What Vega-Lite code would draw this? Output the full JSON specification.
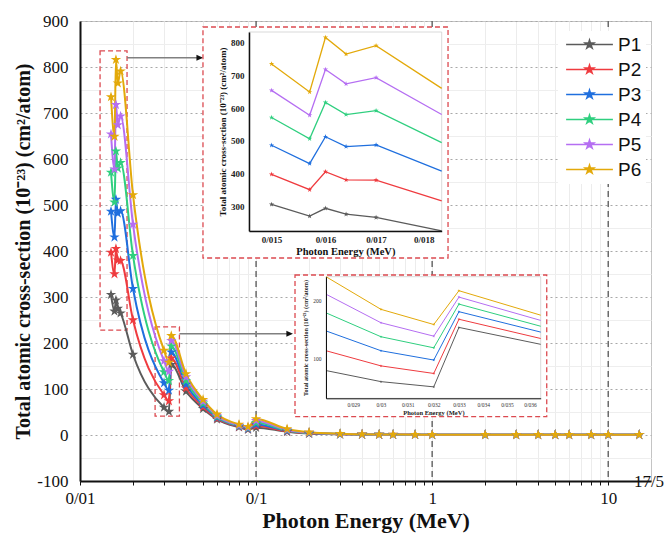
{
  "$schema": "https://vega.github.io/schema/vega-lite/v6.json",
  "width": 571,
  "height": 460,
  "autosize": "none",
  "padding": {"left": 80, "top": 21, "right": 15, "bottom": 62},
  "background": "white",
  "config": {
    "view": {"stroke": "#c4c4c4", "strokeWidth": 1},
    "font": "Liberation Serif"
  },
  "datasets": {
    "main": [
      {"E":0.015,"s":"P1","v":305},{"E":0.0157,"s":"P1","v":269},{"E":0.016,"s":"P1","v":293},{"E":0.0164,"s":"P1","v":275},{"E":0.017,"s":"P1","v":265},{"E":0.02,"s":"P1","v":175},{"E":0.03,"s":"P1","v":60},{"E":0.032,"s":"P1","v":51},{"E":0.033,"s":"P1","v":153},{"E":0.04,"s":"P1","v":95},{"E":0.05,"s":"P1","v":57},{"E":0.06,"s":"P1","v":34},{"E":0.08,"s":"P1","v":17},{"E":0.09,"s":"P1","v":12},{"E":0.1,"s":"P1","v":16},{"E":0.15,"s":"P1","v":7},{"E":0.2,"s":"P1","v":3.1},{"E":0.3,"s":"P1","v":1.6},{"E":0.4,"s":"P1","v":1.1},{"E":0.5,"s":"P1","v":0.9},{"E":0.6,"s":"P1","v":0.8},{"E":0.8,"s":"P1","v":0.67},{"E":1,"s":"P1","v":0.6},{"E":2,"s":"P1","v":0.44},{"E":3,"s":"P1","v":0.4},{"E":4,"s":"P1","v":0.4},{"E":5,"s":"P1","v":0.4},{"E":6,"s":"P1","v":0.41},{"E":8,"s":"P1","v":0.43},{"E":10,"s":"P1","v":0.45},{"E":15,"s":"P1","v":0.48},
      {"E":0.015,"s":"P2","v":397},{"E":0.0157,"s":"P2","v":350},{"E":0.016,"s":"P2","v":405},{"E":0.0164,"s":"P2","v":380},{"E":0.017,"s":"P2","v":379},{"E":0.02,"s":"P2","v":250},{"E":0.03,"s":"P2","v":87},{"E":0.032,"s":"P2","v":74},{"E":0.033,"s":"P2","v":167},{"E":0.04,"s":"P2","v":102},{"E":0.05,"s":"P2","v":61},{"E":0.06,"s":"P2","v":36},{"E":0.08,"s":"P2","v":18},{"E":0.09,"s":"P2","v":13},{"E":0.1,"s":"P2","v":20},{"E":0.15,"s":"P2","v":8},{"E":0.2,"s":"P2","v":3.6},{"E":0.3,"s":"P2","v":1.8},{"E":0.4,"s":"P2","v":1.2},{"E":0.5,"s":"P2","v":0.95},{"E":0.6,"s":"P2","v":0.83},{"E":0.8,"s":"P2","v":0.69},{"E":1,"s":"P2","v":0.62},{"E":2,"s":"P2","v":0.45},{"E":3,"s":"P2","v":0.41},{"E":4,"s":"P2","v":0.41},{"E":5,"s":"P2","v":0.41},{"E":6,"s":"P2","v":0.42},{"E":8,"s":"P2","v":0.44},{"E":10,"s":"P2","v":0.46},{"E":15,"s":"P2","v":0.49},
      {"E":0.015,"s":"P3","v":486},{"E":0.0157,"s":"P3","v":430},{"E":0.016,"s":"P3","v":512},{"E":0.0164,"s":"P3","v":482},{"E":0.017,"s":"P3","v":487},{"E":0.02,"s":"P3","v":318},{"E":0.03,"s":"P3","v":113},{"E":0.032,"s":"P3","v":97},{"E":0.033,"s":"P3","v":180},{"E":0.04,"s":"P3","v":110},{"E":0.05,"s":"P3","v":65},{"E":0.06,"s":"P3","v":38},{"E":0.08,"s":"P3","v":19},{"E":0.09,"s":"P3","v":14},{"E":0.1,"s":"P3","v":23},{"E":0.15,"s":"P3","v":9},{"E":0.2,"s":"P3","v":4.1},{"E":0.3,"s":"P3","v":2.0},{"E":0.4,"s":"P3","v":1.3},{"E":0.5,"s":"P3","v":1.0},{"E":0.6,"s":"P3","v":0.87},{"E":0.8,"s":"P3","v":0.72},{"E":1,"s":"P3","v":0.64},{"E":2,"s":"P3","v":0.46},{"E":3,"s":"P3","v":0.42},{"E":4,"s":"P3","v":0.42},{"E":5,"s":"P3","v":0.42},{"E":6,"s":"P3","v":0.43},{"E":8,"s":"P3","v":0.45},{"E":10,"s":"P3","v":0.47},{"E":15,"s":"P3","v":0.5},
      {"E":0.015,"s":"P4","v":571},{"E":0.0157,"s":"P4","v":506},{"E":0.016,"s":"P4","v":617},{"E":0.0164,"s":"P4","v":580},{"E":0.017,"s":"P4","v":592},{"E":0.02,"s":"P4","v":390},{"E":0.03,"s":"P4","v":137},{"E":0.032,"s":"P4","v":118},{"E":0.033,"s":"P4","v":193},{"E":0.04,"s":"P4","v":118},{"E":0.05,"s":"P4","v":69},{"E":0.06,"s":"P4","v":40},{"E":0.08,"s":"P4","v":20},{"E":0.09,"s":"P4","v":15},{"E":0.1,"s":"P4","v":27},{"E":0.15,"s":"P4","v":10},{"E":0.2,"s":"P4","v":4.7},{"E":0.3,"s":"P4","v":2.2},{"E":0.4,"s":"P4","v":1.4},{"E":0.5,"s":"P4","v":1.05},{"E":0.6,"s":"P4","v":0.9},{"E":0.8,"s":"P4","v":0.75},{"E":1,"s":"P4","v":0.66},{"E":2,"s":"P4","v":0.47},{"E":3,"s":"P4","v":0.43},{"E":4,"s":"P4","v":0.43},{"E":5,"s":"P4","v":0.43},{"E":6,"s":"P4","v":0.44},{"E":8,"s":"P4","v":0.46},{"E":10,"s":"P4","v":0.48},{"E":15,"s":"P4","v":0.52},
      {"E":0.015,"s":"P5","v":654},{"E":0.0157,"s":"P5","v":578},{"E":0.016,"s":"P5","v":718},{"E":0.0164,"s":"P5","v":674},{"E":0.017,"s":"P5","v":693},{"E":0.02,"s":"P5","v":458},{"E":0.03,"s":"P5","v":161},{"E":0.032,"s":"P5","v":138},{"E":0.033,"s":"P5","v":205},{"E":0.04,"s":"P5","v":126},{"E":0.05,"s":"P5","v":73},{"E":0.06,"s":"P5","v":42},{"E":0.08,"s":"P5","v":21},{"E":0.09,"s":"P5","v":16},{"E":0.1,"s":"P5","v":31},{"E":0.15,"s":"P5","v":11},{"E":0.2,"s":"P5","v":5.3},{"E":0.3,"s":"P5","v":2.4},{"E":0.4,"s":"P5","v":1.5},{"E":0.5,"s":"P5","v":1.1},{"E":0.6,"s":"P5","v":0.95},{"E":0.8,"s":"P5","v":0.78},{"E":1,"s":"P5","v":0.68},{"E":2,"s":"P5","v":0.48},{"E":3,"s":"P5","v":0.44},{"E":4,"s":"P5","v":0.44},{"E":5,"s":"P5","v":0.44},{"E":6,"s":"P5","v":0.45},{"E":8,"s":"P5","v":0.47},{"E":10,"s":"P5","v":0.49},{"E":15,"s":"P5","v":0.53},
      {"E":0.015,"s":"P6","v":735},{"E":0.0157,"s":"P6","v":649},{"E":0.016,"s":"P6","v":816},{"E":0.0164,"s":"P6","v":765},{"E":0.017,"s":"P6","v":791},{"E":0.02,"s":"P6","v":522},{"E":0.03,"s":"P6","v":184},{"E":0.032,"s":"P6","v":158},{"E":0.033,"s":"P6","v":216},{"E":0.04,"s":"P6","v":133},{"E":0.05,"s":"P6","v":77},{"E":0.06,"s":"P6","v":45},{"E":0.08,"s":"P6","v":23},{"E":0.09,"s":"P6","v":18},{"E":0.1,"s":"P6","v":35},{"E":0.15,"s":"P6","v":13},{"E":0.2,"s":"P6","v":6},{"E":0.3,"s":"P6","v":2.7},{"E":0.4,"s":"P6","v":1.6},{"E":0.5,"s":"P6","v":1.2},{"E":0.6,"s":"P6","v":1.0},{"E":0.8,"s":"P6","v":0.8},{"E":1,"s":"P6","v":0.7},{"E":2,"s":"P6","v":0.5},{"E":3,"s":"P6","v":0.45},{"E":4,"s":"P6","v":0.45},{"E":5,"s":"P6","v":0.45},{"E":6,"s":"P6","v":0.46},{"E":8,"s":"P6","v":0.48},{"E":10,"s":"P6","v":0.5},{"E":15,"s":"P6","v":0.55}
    ],
    "zoomL": [
      {"E":0.015,"s":"P1","v":305},{"E":0.0157,"s":"P1","v":269},{"E":0.016,"s":"P1","v":293},{"E":0.0164,"s":"P1","v":275},{"E":0.017,"s":"P1","v":265},{"E":0.01839,"s":"P1","v":224},
      {"E":0.015,"s":"P2","v":397},{"E":0.0157,"s":"P2","v":350},{"E":0.016,"s":"P2","v":405},{"E":0.0164,"s":"P2","v":380},{"E":0.017,"s":"P2","v":379},{"E":0.01839,"s":"P2","v":316},
      {"E":0.015,"s":"P3","v":486},{"E":0.0157,"s":"P3","v":430},{"E":0.016,"s":"P3","v":512},{"E":0.0164,"s":"P3","v":482},{"E":0.017,"s":"P3","v":487},{"E":0.01839,"s":"P3","v":407},
      {"E":0.015,"s":"P4","v":571},{"E":0.0157,"s":"P4","v":506},{"E":0.016,"s":"P4","v":617},{"E":0.0164,"s":"P4","v":580},{"E":0.017,"s":"P4","v":592},{"E":0.01839,"s":"P4","v":494},
      {"E":0.015,"s":"P5","v":654},{"E":0.0157,"s":"P5","v":578},{"E":0.016,"s":"P5","v":718},{"E":0.0164,"s":"P5","v":674},{"E":0.017,"s":"P5","v":693},{"E":0.01839,"s":"P5","v":580},
      {"E":0.015,"s":"P6","v":735},{"E":0.0157,"s":"P6","v":649},{"E":0.016,"s":"P6","v":816},{"E":0.0164,"s":"P6","v":765},{"E":0.017,"s":"P6","v":791},{"E":0.01839,"s":"P6","v":660}
    ],
    "zoomK": [
      {"E":0.02805,"s":"P1","v":79},{"E":0.03,"s":"P1","v":60},{"E":0.032,"s":"P1","v":51},{"E":0.033,"s":"P1","v":153},{"E":0.03647,"s":"P1","v":124},
      {"E":0.02805,"s":"P2","v":113},{"E":0.03,"s":"P2","v":87},{"E":0.032,"s":"P2","v":74},{"E":0.033,"s":"P2","v":167},{"E":0.03647,"s":"P2","v":134},
      {"E":0.02805,"s":"P3","v":147},{"E":0.03,"s":"P3","v":113},{"E":0.032,"s":"P3","v":97},{"E":0.033,"s":"P3","v":180},{"E":0.03647,"s":"P3","v":145},
      {"E":0.02805,"s":"P4","v":178},{"E":0.03,"s":"P4","v":137},{"E":0.032,"s":"P4","v":118},{"E":0.033,"s":"P4","v":193},{"E":0.03647,"s":"P4","v":155},
      {"E":0.02805,"s":"P5","v":210},{"E":0.03,"s":"P5","v":161},{"E":0.032,"s":"P5","v":138},{"E":0.033,"s":"P5","v":205},{"E":0.03647,"s":"P5","v":165},
      {"E":0.02805,"s":"P6","v":240},{"E":0.03,"s":"P6","v":184},{"E":0.032,"s":"P6","v":158},{"E":0.033,"s":"P6","v":216},{"E":0.03647,"s":"P6","v":174}
    ]
  },
  "resolve": {"scale": {"x": "independent", "y": "independent"}, "axis": {"x": "independent", "y": "independent"}},
  "layer": [
    {
      "data": {"values": [{"E": 0.1}, {"E": 1}, {"E": 10}]},
      "mark": {"type": "rule", "color": "#555555", "strokeDash": [6, 4], "strokeWidth": 1.3},
      "encoding": {
        "x": {"field": "E", "type": "quantitative", "scale": {"type": "log", "domain": [0.01, 17.5], "nice": false}, "axis": null}
      }
    },
    {
      "data": {"values": [{}]},
      "mark": {"type": "rect", "fill": "transparent", "stroke": "#dc4a50", "strokeDash": [5, 3], "strokeWidth": 1.3},
      "encoding": {
        "x": {"datum": 0.013, "type": "quantitative", "scale": {"type": "log", "domain": [0.01, 17.5], "nice": false}, "axis": null},
        "x2": {"datum": 0.0185},
        "y": {"datum": 835, "type": "quantitative", "scale": {"domain": [-100, 900], "nice": false, "zero": false}, "axis": null},
        "y2": {"datum": 228}
      }
    },
    {
      "data": {"values": [{}]},
      "mark": {"type": "rect", "fill": "transparent", "stroke": "#dc4a50", "strokeDash": [5, 3], "strokeWidth": 1.3},
      "encoding": {
        "x": {"datum": 0.0267, "type": "quantitative", "scale": {"type": "log", "domain": [0.01, 17.5], "nice": false}, "axis": null},
        "x2": {"datum": 0.0367},
        "y": {"datum": 235, "type": "quantitative", "scale": {"domain": [-100, 900], "nice": false, "zero": false}, "axis": null},
        "y2": {"datum": 41}
      }
    },
    {
      "data": {"values": [{}]},
      "mark": {"type": "rule", "color": "#808080", "strokeWidth": 1.5},
      "encoding": {
        "x": {"datum": 0.0185, "type": "quantitative", "scale": {"type": "log", "domain": [0.01, 17.5], "nice": false}, "axis": null},
        "x2": {"datum": 0.049},
        "y": {"datum": 820, "type": "quantitative", "scale": {"domain": [-100, 900], "nice": false, "zero": false}, "axis": null}
      }
    },
    {
      "data": {"values": [{}]},
      "mark": {"type": "rule", "color": "#808080", "strokeWidth": 1.5},
      "encoding": {
        "x": {"datum": 0.0367, "type": "quantitative", "scale": {"type": "log", "domain": [0.01, 17.5], "nice": false}, "axis": null},
        "x2": {"datum": 0.158},
        "y": {"datum": 220, "type": "quantitative", "scale": {"domain": [-100, 900], "nice": false, "zero": false}, "axis": null}
      }
    },
    {
      "data": {"values": [{"E": 0.05, "v": 820}, {"E": 0.162, "v": 220}]},
      "mark": {"type": "point", "shape": "M0,0L-2.2,-1L-2.2,1Z", "filled": true, "color": "#111111", "size": 36, "opacity": 1},
      "encoding": {
        "x": {"field": "E", "type": "quantitative", "scale": {"type": "log", "domain": [0.01, 17.5], "nice": false}, "axis": null},
        "y": {"field": "v", "type": "quantitative", "scale": {"domain": [-100, 900], "nice": false, "zero": false}, "axis": null}
      }
    },
    {
      "data": {"name": "main"},
      "mark": {"type": "line", "strokeWidth": 2, "interpolate": "monotone"},
      "encoding": {
        "x": {
          "field": "E", "type": "quantitative",
          "scale": {"type": "log", "domain": [0.01, 17.5], "nice": false},
          "axis": {
            "orient": "bottom",
            "title": "Photon Energy (MeV)",
            "values": [0.01,0.02,0.03,0.04,0.05,0.06,0.07,0.08,0.09,0.1,0.2,0.3,0.4,0.5,0.6,0.7,0.8,0.9,1,2,3,4,5,6,7,8,9,10],
            "labelExpr": "indexof([0.01, 0.1, 1, 10], datum.value) >= 0 ? replace(format(datum.value, '~g'), '.', '/') : ''",
            "labelOverlap": false, "labelFlush": false, "labelBound": false,
            "tickSize": 4, "tickColor": "#111111", "domainColor": "#111111", "domainWidth": 2,
            "labelFont": "Liberation Serif", "labelFontSize": 17, "labelColor": "#111111", "labelPadding": 5,
            "titleFont": "Liberation Serif", "titleFontSize": 22, "titleFontWeight": "bold", "titleColor": "#111111", "titlePadding": 4,
            "grid": true, "gridColor": "#ececec", "gridWidth": 1
          }
        },
        "y": {
          "field": "v", "type": "quantitative",
          "scale": {"domain": [-100, 900], "nice": false, "zero": false},
          "axis": {
            "orient": "left",
            "title": "Total atomic cross-section (10⁻²³) (cm²/atom)",
            "values": [-100,-50,0,50,100,150,200,250,300,350,400,450,500,550,600,650,700,750,800,850,900],
            "labelExpr": "datum.value % 100 === 0 ? '' + datum.value : ''",
            "labelOverlap": false, "labelFlush": false, "labelBound": false,
            "ticks": false, "domainColor": "#111111", "domainWidth": 2,
            "labelFont": "Liberation Serif", "labelFontSize": 17, "labelColor": "#111111", "labelPadding": 12,
            "titleFont": "Liberation Serif", "titleFontSize": 20, "titleFontWeight": "bold", "titleColor": "#111111", "titlePadding": 3,
            "grid": true,
            "gridColor": {"condition": {"test": "datum.value % 100 === 0", "value": "#a8a8a8"}, "value": "#eeeeee"},
            "gridDash": {"condition": {"test": "datum.value % 100 === 0", "value": [2, 3]}, "value": []}
          }
        },
        "color": {
          "field": "s", "type": "nominal",
          "scale": {"domain": ["P1", "P2", "P3", "P4", "P5", "P6"], "range": ["#5b5b5b", "#ef3b3f", "#1f6fde", "#2fcf7f", "#b56ef2", "#e3a90a"]},
          "legend": {
            "orient": "none", "legendX": 478, "legendY": 10, "title": null,
            "labelFont": "Liberation Sans", "labelFontSize": 19, "labelColor": "#111111",
            "symbolType": "M-5.2,0L5.2,0M0,-1L0.2245,-0.309L0.9511,-0.309L0.3633,0.118L0.5878,0.809L0,0.382L-0.5878,0.809L-0.3633,0.118L-0.9511,-0.309L-0.2245,-0.309Z",
            "symbolSize": 81, "symbolStrokeWidth": 1.5, "symbolOffset": 18, "labelOffset": 19,
            "rowPadding": 5, "padding": 4, "fillColor": "white",
            "encode": {"symbols": {"update": {"fill": {"scale": "color", "field": "value"}, "stroke": {"scale": "color", "field": "value"}, "opacity": {"value": 1}, "fillOpacity": {"value": 1}}}}
          }
        }
      }
    },
    {
      "data": {"name": "main"},
      "mark": {"type": "point", "shape": "M0,-1L0.2245,-0.309L0.9511,-0.309L0.3633,0.118L0.5878,0.809L0,0.382L-0.5878,0.809L-0.3633,0.118L-0.9511,-0.309L-0.2245,-0.309Z", "filled": true, "size": 120, "opacity": 1},
      "encoding": {
        "x": {"field": "E", "type": "quantitative", "scale": {"type": "log", "domain": [0.01, 17.5], "nice": false}, "axis": null},
        "y": {"field": "v", "type": "quantitative", "scale": {"domain": [-100, 900], "nice": false, "zero": false}, "axis": null},
        "color": {"field": "s", "type": "nominal", "scale": {"domain": ["P1", "P2", "P3", "P4", "P5", "P6"], "range": ["#5b5b5b", "#ef3b3f", "#1f6fde", "#2fcf7f", "#b56ef2", "#e3a90a"]}, "legend": null}
      }
    },
    {
      "data": {"values": [{"E": 17.5, "v": -100, "t": "17/5"}]},
      "mark": {"type": "text", "font": "Liberation Serif", "fontSize": 17, "color": "#111111", "align": "center", "baseline": "middle", "dx": -2, "dy": 1},
      "encoding": {
        "x": {"field": "E", "type": "quantitative", "scale": {"type": "log", "domain": [0.01, 17.5], "nice": false}, "axis": null},
        "y": {"field": "v", "type": "quantitative", "scale": {"domain": [-100, 900], "nice": false, "zero": false}, "axis": null},
        "text": {"field": "t"}
      }
    },
    {
      "data": {"values": [{}]},
      "mark": {"type": "rect", "fill": "white", "stroke": "#dc4a50", "strokeDash": [5, 3], "strokeWidth": 1.3},
      "encoding": {
        "x": {"datum": 0.013817, "type": "quantitative", "scale": {"type": "log", "domain": [0.0146, 0.01839], "range": [169, 361.7], "nice": false}, "axis": null},
        "x2": {"datum": 0.01853},
        "y": {"datum": 848, "type": "quantitative", "scale": {"domain": [223.5, 832.7], "range": [210, 11], "nice": false, "zero": false}, "axis": null},
        "y2": {"datum": 140.8}
      }
    },
    {
      "data": {"values": [{}]},
      "mark": {"type": "rect", "fill": "transparent", "stroke": "#cfcfcf", "strokeWidth": 0.8},
      "encoding": {
        "x": {"datum": 0.0146, "type": "quantitative", "scale": {"type": "log", "domain": [0.0146, 0.01839], "range": [169, 361.7], "nice": false}, "axis": null},
        "x2": {"datum": 0.01839},
        "y": {"datum": 832.7, "type": "quantitative", "scale": {"domain": [223.5, 832.7], "range": [210, 11], "nice": false, "zero": false}, "axis": null},
        "y2": {"datum": 223.5}
      }
    },
    {
      "data": {"name": "zoomL"},
      "mark": {"type": "line", "strokeWidth": 1.3},
      "encoding": {
        "x": {
          "field": "E", "type": "quantitative",
          "scale": {"type": "log", "domain": [0.0146, 0.01839], "range": [169, 361.7], "nice": false},
          "axis": {
            "orient": "bottom", "offset": -250, "zindex": 1,
            "title": "Photon Energy (MeV)",
            "values": [0.015, 0.016, 0.017, 0.018],
            "labelExpr": "replace(format(datum.value, '~g'), '.', '/')",
            "labelOverlap": false, "labelFlush": false, "labelBound": false,
            "grid": false, "ticks": false, "domainColor": "#111111", "domainWidth": 1.5,
            "labelFont": "Liberation Serif", "labelFontSize": 9, "labelFontWeight": "bold", "labelColor": "#222222", "labelPadding": 4,
            "titleFont": "Liberation Serif", "titleFontSize": 10.5, "titleFontWeight": "bold", "titleColor": "#111111", "titlePadding": 2
          }
        },
        "y": {
          "field": "v", "type": "quantitative",
          "scale": {"domain": [223.5, 832.7], "range": [210, 11], "nice": false, "zero": false},
          "axis": {
            "orient": "left", "offset": -169, "zindex": 1,
            "title": "Total atomic cross-section (10⁻²³) (cm²/atom)",
            "values": [300, 400, 500, 600, 700, 800],
            "labelOverlap": false, "labelFlush": false, "labelBound": false,
            "grid": false, "ticks": false, "domainColor": "#111111", "domainWidth": 1.5,
            "labelFont": "Liberation Serif", "labelFontSize": 9, "labelFontWeight": "bold", "labelColor": "#222222", "labelPadding": 5,
            "titleFont": "Liberation Serif", "titleFontSize": 9, "titleFontWeight": "bold", "titleColor": "#111111", "titlePadding": 3
          }
        },
        "color": {"field": "s", "type": "nominal", "scale": {"domain": ["P1", "P2", "P3", "P4", "P5", "P6"], "range": ["#5b5b5b", "#ef3b3f", "#1f6fde", "#2fcf7f", "#b56ef2", "#e3a90a"]}, "legend": null}
      }
    },
    {
      "data": {"name": "zoomL"},
      "transform": [{"filter": "datum.E < 0.0175"}],
      "mark": {"type": "point", "shape": "M0,-1L0.2245,-0.309L0.9511,-0.309L0.3633,0.118L0.5878,0.809L0,0.382L-0.5878,0.809L-0.3633,0.118L-0.9511,-0.309L-0.2245,-0.309Z", "filled": true, "size": 30, "opacity": 1},
      "encoding": {
        "x": {"field": "E", "type": "quantitative", "scale": {"type": "log", "domain": [0.0146, 0.01839], "range": [169, 361.7], "nice": false}, "axis": null},
        "y": {"field": "v", "type": "quantitative", "scale": {"domain": [223.5, 832.7], "range": [210, 11], "nice": false, "zero": false}, "axis": null},
        "color": {"field": "s", "type": "nominal", "scale": {"domain": ["P1", "P2", "P3", "P4", "P5", "P6"], "range": ["#5b5b5b", "#ef3b3f", "#1f6fde", "#2fcf7f", "#b56ef2", "#e3a90a"]}, "legend": null}
      }
    },
    {
      "data": {"values": [{}]},
      "mark": {"type": "rect", "fill": "white", "stroke": "#dc4a50", "strokeDash": [5, 3], "strokeWidth": 1.3},
      "encoding": {
        "x": {"datum": 0.027007, "type": "quantitative", "scale": {"type": "log", "domain": [0.02805, 0.03647], "range": [246, 460.7], "nice": false}, "axis": null},
        "x2": {"datum": 0.03674},
        "y": {"datum": 242.9, "type": "quantitative", "scale": {"domain": [31.4, 240], "range": [377.3, 255.7], "nice": false, "zero": false}, "axis": null},
        "y2": {"datum": -0.2}
      }
    },
    {
      "data": {"values": [{}]},
      "mark": {"type": "rect", "fill": "transparent", "stroke": "#cfcfcf", "strokeWidth": 0.8},
      "encoding": {
        "x": {"datum": 0.02805, "type": "quantitative", "scale": {"type": "log", "domain": [0.02805, 0.03647], "range": [246, 460.7], "nice": false}, "axis": null},
        "x2": {"datum": 0.03647},
        "y": {"datum": 240, "type": "quantitative", "scale": {"domain": [31.4, 240], "range": [377.3, 255.7], "nice": false, "zero": false}, "axis": null},
        "y2": {"datum": 31.4}
      }
    },
    {
      "data": {"name": "zoomK"},
      "mark": {"type": "line", "strokeWidth": 1},
      "encoding": {
        "x": {
          "field": "E", "type": "quantitative",
          "scale": {"type": "log", "domain": [0.02805, 0.03647], "range": [246, 460.7], "nice": false},
          "axis": {
            "orient": "bottom", "offset": -82.7, "zindex": 1,
            "title": "Photon Energy (MeV)",
            "values": [0.029, 0.03, 0.031, 0.032, 0.033, 0.034, 0.035, 0.036],
            "labelExpr": "replace(format(datum.value, '~g'), '.', '/')",
            "labelOverlap": false, "labelFlush": false, "labelBound": false,
            "grid": false, "ticks": false, "domainColor": "#111111", "domainWidth": 1,
            "labelFont": "Liberation Serif", "labelFontSize": 5.5, "labelColor": "#333333", "labelPadding": 4,
            "titleFont": "Liberation Serif", "titleFontSize": 6.5, "titleFontWeight": "bold", "titleColor": "#222222", "titlePadding": 2
          }
        },
        "y": {
          "field": "v", "type": "quantitative",
          "scale": {"domain": [31.4, 240], "range": [377.3, 255.7], "nice": false, "zero": false},
          "axis": {
            "orient": "left", "offset": -246, "zindex": 1,
            "title": "Total atomic cross-section (10⁻²³) (cm²/atom)",
            "values": [100, 200],
            "labelOverlap": false, "labelFlush": false, "labelBound": false,
            "grid": false, "ticks": false, "domainColor": "#111111", "domainWidth": 1,
            "labelFont": "Liberation Serif", "labelFontSize": 5.5, "labelColor": "#333333", "labelPadding": 5,
            "titleFont": "Liberation Serif", "titleFontSize": 6.2, "titleFontWeight": "bold", "titleColor": "#222222", "titlePadding": 4
          }
        },
        "color": {"field": "s", "type": "nominal", "scale": {"domain": ["P1", "P2", "P3", "P4", "P5", "P6"], "range": ["#5b5b5b", "#ef3b3f", "#1f6fde", "#2fcf7f", "#b56ef2", "#e3a90a"]}, "legend": null}
      }
    },
    {
      "data": {"name": "zoomK"},
      "transform": [{"filter": "datum.E > 0.029 && datum.E < 0.034"}],
      "mark": {"type": "point", "shape": "M0,-1L0.2245,-0.309L0.9511,-0.309L0.3633,0.118L0.5878,0.809L0,0.382L-0.5878,0.809L-0.3633,0.118L-0.9511,-0.309L-0.2245,-0.309Z", "filled": true, "size": 10, "opacity": 1},
      "encoding": {
        "x": {"field": "E", "type": "quantitative", "scale": {"type": "log", "domain": [0.02805, 0.03647], "range": [246, 460.7], "nice": false}, "axis": null},
        "y": {"field": "v", "type": "quantitative", "scale": {"domain": [31.4, 240], "range": [377.3, 255.7], "nice": false, "zero": false}, "axis": null},
        "color": {"field": "s", "type": "nominal", "scale": {"domain": ["P1", "P2", "P3", "P4", "P5", "P6"], "range": ["#5b5b5b", "#ef3b3f", "#1f6fde", "#2fcf7f", "#b56ef2", "#e3a90a"]}, "legend": null}
      }
    }
  ]
}
